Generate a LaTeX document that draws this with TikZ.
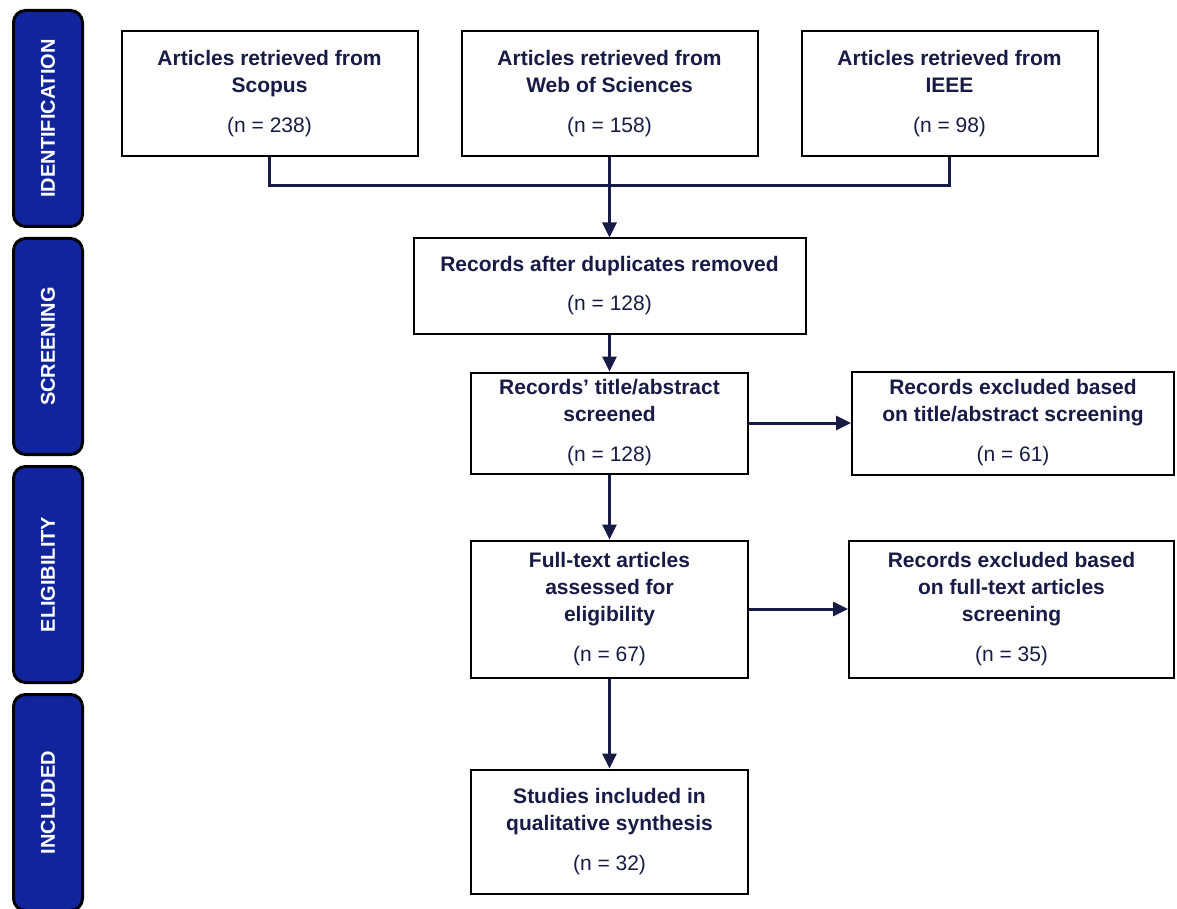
\documentclass[tikz,border=0pt]{standalone}
\usepackage{fontspec}
\setmainfont{Liberation Sans}
\usepackage{tikz}
\usetikzlibrary{arrows.meta,positioning}
\definecolor{Navy}{HTML}{171B45}
\definecolor{Phase}{HTML}{10259B}

\begin{document}
\begin{tikzpicture}[>={Triangle[length=7.5pt,width=7pt]},
  every node/.style={font=\fontsize{10.5}{13.5}\selectfont\bfseries,text=Navy},
  box/.style={draw=black,line width=1pt,fill=white,align=center,inner sep=2pt},
  phase/.style={draw=black,line width=1.5pt,fill=Phase,rounded corners=6pt,minimum width=34.5pt,minimum height=108pt,text=white,font=\fontsize{10}{12}\selectfont\bfseries},
  flow/.style={draw=Navy,line width=1.5pt}]
\useasboundingbox (0,0) rectangle (588.5pt,-454.5pt);
% phase bars
\node[phase] (ident) at (24pt,-59.25pt) {\rotatebox{90}{IDENTIFICATION}};
\node[phase,below=4.5pt of ident] (screen) {\rotatebox{90}{SCREENING}};
\node[phase,below=4.5pt of screen] (elig) {\rotatebox{90}{ELIGIBILITY}};
\node[phase,below=4.5pt of elig] (incl) {\rotatebox{90}{INCLUDED}};
% identification
\node[box,minimum width=148pt,minimum height=62.5pt] (scopus) at (134.75pt,-47pt) {Articles retrieved from\\Scopus\\[6.5pt]\mdseries (n = 238)};
\node[box,minimum width=148pt,minimum height=62.5pt,right=21pt of scopus] (wos) {Articles retrieved from\\Web of Sciences\\[6.5pt]\mdseries (n = 158)};
\node[box,minimum width=148pt,minimum height=62.5pt,right=21pt of wos] (ieee) {Articles retrieved from\\IEEE\\[6.5pt]\mdseries (n = 98)};
% screening
\node[box,minimum width=196pt,minimum height=47.5pt,below=40pt of wos] (rec) {Records after duplicates removed\\[6pt]\mdseries (n = 128)};
\node[box,minimum width=138.5pt,minimum height=50.5pt,below=18.5pt of rec] (title) {Records’ title/abstract\\screened\\[6.5pt]\mdseries (n = 128)};
\node[box,minimum width=161pt,minimum height=51.5pt,right=51pt of title] (excla) {Records excluded based\\on title/abstract screening\\[6.5pt]\mdseries (n = 61)};
% eligibility
\node[box,minimum width=138.5pt,minimum height=68.5pt,below=32.5pt of title] (full) {Full-text articles\\assessed for\\eligibility\\[6.5pt]\mdseries (n = 67)};
\node[box,minimum width=162.5pt,minimum height=68.5pt,right=49.5pt of full] (exclb) {Records excluded based\\on full-text articles\\screening\\[6.5pt]\mdseries (n = 35)};
% included
\node[box,minimum width=138.5pt,minimum height=62pt,below=45pt of full] (study) {Studies included in\\qualitative synthesis\\[6.5pt]\mdseries (n = 32)};
% connectors
\coordinate[below=14pt of wos] (join);
\draw[flow] (scopus.south) |- (join) -| (ieee.south);
\draw[flow,->] (wos.south) -- (wos.south |- rec.north);
\draw[flow,->] (rec) -- (title);
\draw[flow,->] (title.east) -- (title.east -| excla.west);
\draw[flow,->] (title) -- (full);
\draw[flow,->] (full.east) -- (full.east -| exclb.west);
\draw[flow,->] (full) -- (study);
\end{tikzpicture}
\end{document}
